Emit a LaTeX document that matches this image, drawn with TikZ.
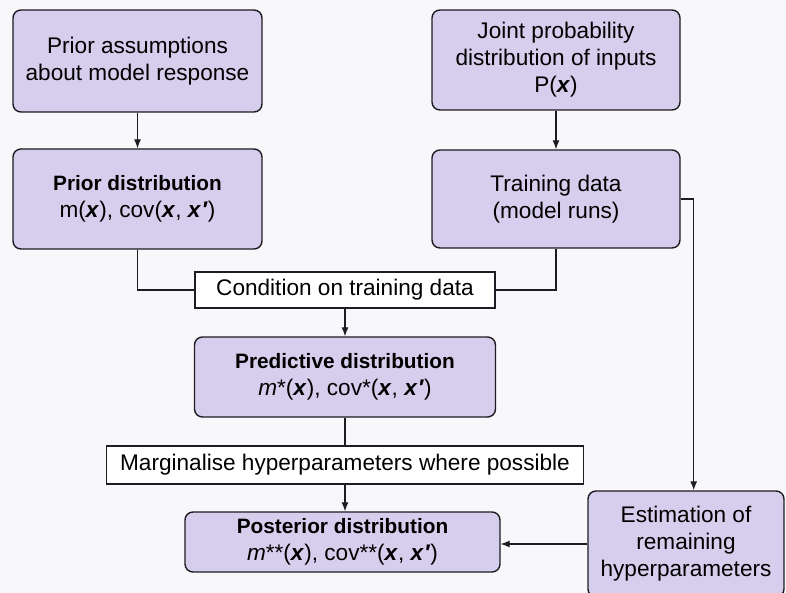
\documentclass[tikz,border=0pt]{standalone}
\usepackage{fontspec}
\setmainfont{Liberation Sans}
\usetikzlibrary{arrows.meta}
\definecolor{boxfill}{RGB}{214,206,236}
\definecolor{paper}{RGB}{248,248,250}
\definecolor{ink}{RGB}{28,28,34}
% bold italic input vector and its primed copy
\newcommand{\vx}{\textbf{\textit{x}}}
\newcommand{\vxp}{\textbf{\textit{x}\kern0.3pt\textit{′}}}
\newcommand{\hd}[1]{{\fontsize{20.8}{27}\selectfont\bfseries #1}}
\tikzset{
  stage/.style={draw=ink, line width=1.4pt, fill=boxfill, rounded corners=8pt,
    align=center, inner sep=2pt, font=\fontsize{22.6}{27}\selectfont},
  note/.style={draw=ink, line width=1.2pt, fill=white, align=center,
    inner sep=2pt, font=\fontsize{22.6}{27}\selectfont},
  link/.style={draw=ink, line width=1.2pt},
  arr/.style={link, -{Latex[length=9pt,width=7pt]}},
}
\begin{document}
\begin{tikzpicture}[x=1pt,y=-1pt]
\useasboundingbox (0,0) rectangle (786,593);
\fill[paper] (0,0) rectangle (786,593);

\node[stage, minimum width=249pt, minimum height=102pt] (assume) at (137.5,61)
  {Prior assumptions\\about model response};
\node[stage, minimum width=249pt, minimum height=100pt] (prior) at (137.5,199)
  {\hd{Prior distribution}\\m(\vx), cov(\vx, \vxp)};
\node[stage, minimum width=248pt, minimum height=100pt] (joint) at (556,60)
  {Joint probability\\distribution of inputs\\P(\vx)};
\node[stage, minimum width=248pt, minimum height=98pt] (train) at (556,199)
  {Training data\\(model runs)};
\node[note, minimum width=300pt, minimum height=36pt] (cond) at (345,290)
  {Condition on training data};
\node[stage, minimum width=301pt, minimum height=80pt] (pred) at (345,377)
  {\hd{Predictive distribution}\\\textit{m}*(\vx), cov*(\vx, \vxp)};
\node[note, minimum width=477pt, minimum height=38pt] (marg) at (345,465)
  {Marginalise hyperparameters where possible};
\node[stage, minimum width=315pt, minimum height=60pt] (post) at (342.5,542)
  {\hd{Posterior distribution}\\\textit{m}**(\vx), cov**(\vx, \vxp)};
\node[stage, minimum width=196pt, minimum height=106pt] (est) at (686,544)
  {Estimation of\\remaining\\hyperparameters};

\draw[arr] (assume) -- (prior);
\draw[arr] (joint) -- (train);
\draw[link] (prior.south) |- (cond.west);
\draw[link] (train.south) |- (cond.east);
\draw[arr] (cond) -- (pred);
\draw[link] (pred) -- (marg);
\draw[arr] (marg.south) -- (marg.south |- post.north);
\draw[arr] (train.east) -- ++(13,0) coordinate (turn) -- (turn |- est.north);
\draw[arr] (est.west) -- (est.west -| post.east);
\end{tikzpicture}
\end{document}
